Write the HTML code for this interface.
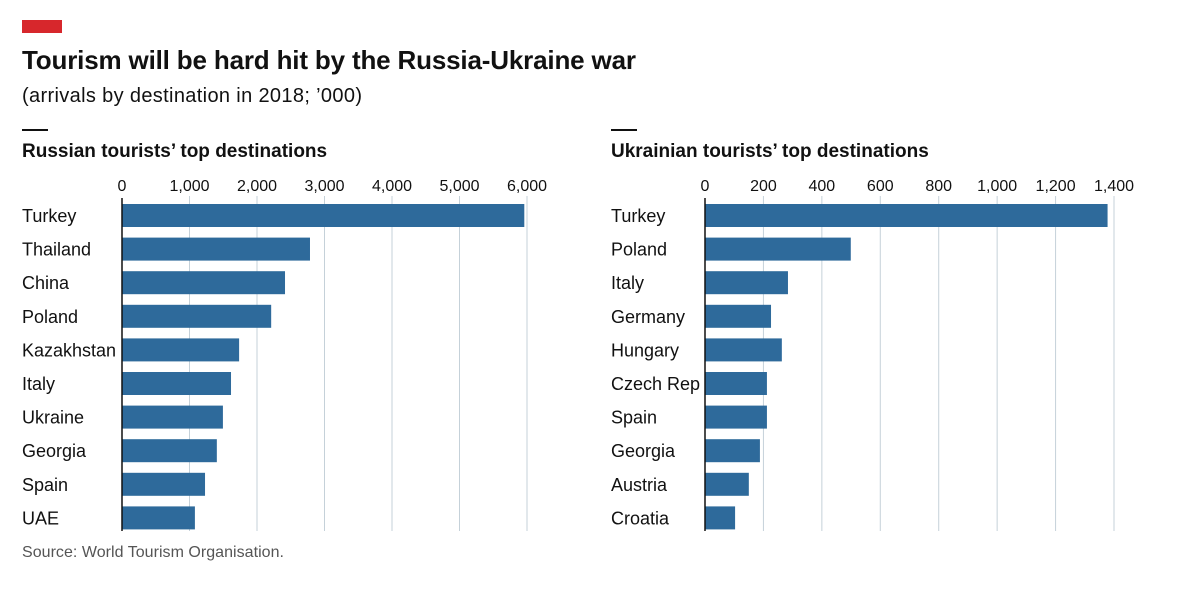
<!DOCTYPE html>
<html><head><meta charset="utf-8"><style>
body{margin:0;background:#fff;width:1202px;height:596px;overflow:hidden;font-family:"Liberation Sans",sans-serif;}
svg text{font-family:"Liberation Sans",sans-serif;}
</style></head><body>
<svg id="c" width="1202" height="596">
<rect x="22" y="20" width="40" height="13" fill="#d7272c"/>
<text x="22" y="69" font-size="26" font-weight="bold" fill="#111" textLength="614">Tourism will be hard hit by the Russia-Ukraine war</text>
<text x="22" y="102" font-size="20" fill="#111" textLength="340">(arrivals by destination in 2018; ’000)</text>
<text x="22" y="557" font-size="16" fill="#555" textLength="262">Source: World Tourism Organisation.</text>
</svg>
<script>
const ruCats=["Turkey","Thailand","China","Poland","Kazakhstan","Italy","Ukraine","Georgia","Spain","UAE"];
const ruVals=[5960,2785,2415,2210,1735,1615,1495,1405,1230,1080];
const ruTicks=[0,1000,2000,3000,4000,5000,6000];
const uaCats=["Turkey","Poland","Italy","Germany","Hungary","Czech Rep","Spain","Georgia","Austria","Croatia"];
const uaVals=[1378,499,284,226,263,212,212,188,150,103];
const uaTicks=[0,200,400,600,800,1000,1200,1400];
const svg=document.getElementById('c');
const NS="http://www.w3.org/2000/svg";
function mk(tag,attrs,txt){const e=document.createElementNS(NS,tag);for(const k in attrs)e.setAttribute(k,attrs[k]);if(txt!==undefined)e.textContent=txt;svg.appendChild(e);return e;}
function panel(key,title,lx,x0,x1,max,cats,vals,ticks){
  const sx=v=>x0+(x1-x0)*v/max;
  const sy=i=>204+i*33.6;
  let e=mk('rect',{x:lx,y:129,width:26,height:2,fill:'#111'});
  
  
  e=mk('text',{x:lx,y:157,'font-size':19,'font-weight':'bold',fill:'#111'},title);
  
  
  ticks.forEach(t=>{
    const x=sx(t);
    if(t>0){e=mk('line',{x1:x,x2:x,y1:196,y2:531,stroke:'#c5d1d9','stroke-width':1});
    
    }
    e=mk('text',{x:x,y:191,'font-size':16,fill:'#111','text-anchor':'middle'},t.toLocaleString('en-US'));
    
    
  });
  cats.forEach((c,i)=>{
    e=mk('rect',{x:x0,y:sy(i),width:sx(vals[i])-x0,height:23,fill:'#2e6a9b'});
    
    
    e=mk('text',{x:lx,y:sy(i)+18,'font-size':18,fill:'#111'},c);
    
    
  });
  e=mk('line',{x1:x0,x2:x0,y1:198,y2:531,stroke:'#111','stroke-width':1.5});
  
  
}
panel('russia',"Russian tourists’ top destinations",22,122,527,6000,ruCats,ruVals,ruTicks);
panel('ukraine',"Ukrainian tourists’ top destinations",611,705,1114,1400,uaCats,uaVals,uaTicks);
</script>
</body></html>
